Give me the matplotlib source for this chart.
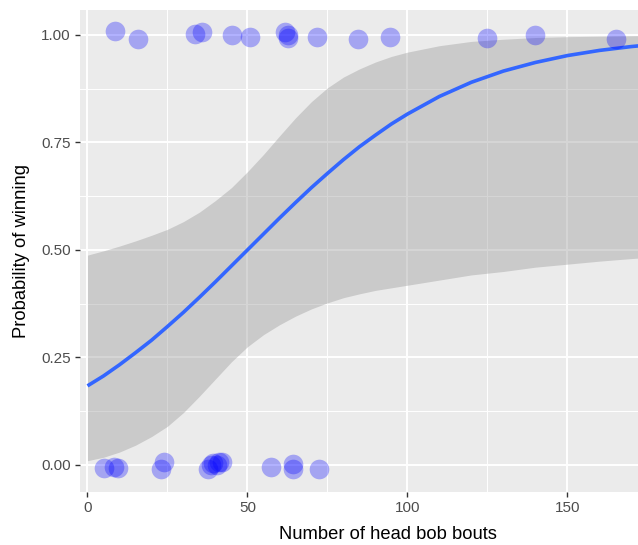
import numpy as np
import matplotlib
matplotlib.use("Agg")
import matplotlib.pyplot as plt

plt.rcParams['font.family'] = ['Liberation Sans', 'DejaVu Sans']

# observed bouts (jittered points), losers at 0 and winners at 1
lose_x = [5.2, 8.3, 9.5, 23.0, 23.9, 37.6, 38.6, 39.3, 40.4, 41.2, 41.9, 57.5, 64.1, 64.3, 72.4]
lose_y = [-0.006, -0.004, -0.007, -0.009, 0.008, -0.010, 0.001, 0.004, 0.000, 0.006, 0.008, -0.005, -0.009, 0.002, -0.010]
win_x = [8.6, 15.7, 33.6, 35.7, 45.3, 50.8, 61.7, 62.8, 62.8, 71.7, 84.6, 94.5, 124.9, 139.8, 165.2]
win_y = [1.009, 0.991, 1.003, 1.007, 1.000, 0.995, 1.008, 1.000, 0.994, 0.995, 0.990, 0.995, 0.992, 1.000, 0.991]

# fitted logistic curve and confidence band
fit_x = [0, 5, 10, 15, 20, 25, 30, 35, 40, 45, 50, 55, 60, 65, 70, 75, 80, 85, 90, 95,
         100, 110, 120, 130, 140, 150, 160, 170, 180, 190]
fit_p = [0.184, 0.207, 0.233, 0.261, 0.290, 0.322, 0.355, 0.390, 0.426, 0.463,
         0.500, 0.537, 0.574, 0.610, 0.645, 0.678, 0.710, 0.740, 0.767, 0.793,
         0.816, 0.857, 0.890, 0.916, 0.936, 0.952, 0.964, 0.973, 0.980, 0.985]
band_hi = [0.488, 0.498, 0.509, 0.521, 0.534, 0.548, 0.566, 0.588, 0.615, 0.645,
           0.682, 0.722, 0.765, 0.807, 0.845, 0.877, 0.902, 0.921, 0.937, 0.950,
           0.960, 0.975, 0.985, 0.990, 0.994, 0.996, 0.997, 0.998, 0.999, 0.999]
band_lo = [0.010, 0.018, 0.030, 0.046, 0.066, 0.090, 0.122, 0.160, 0.200, 0.240,
           0.275, 0.303, 0.326, 0.346, 0.363, 0.377, 0.389, 0.398, 0.406, 0.412,
           0.418, 0.430, 0.442, 0.450, 0.460, 0.467, 0.474, 0.480, 0.485, 0.490]

fig = plt.figure(figsize=(6.38, 5.45), dpi=100)
ax = fig.add_axes([80 / 638, 53 / 545, 616 / 638, 482 / 545])
ax.set_facecolor('#EBEBEB')
for s in ax.spines.values():
    s.set_visible(False)

ax.set_xlim(-2.34, 190.2)
ax.set_ylim(-0.0628, 1.058)
ax.set_xticks([0, 50, 100, 150])
ax.set_xticks([25, 75, 125, 175], minor=True)
ax.set_yticks([0, 0.25, 0.5, 0.75, 1.0])
ax.set_yticks([0.125, 0.375, 0.625, 0.875], minor=True)
ax.set_yticklabels(['0.00', '0.25', '0.50', '0.75', '1.00'])
ax.grid(which='major', color='white', lw=1.4)
ax.grid(which='minor', color='white', lw=0.7)
ax.set_axisbelow(True)
ax.tick_params(which='major', length=3.5, width=1.0, color='#333333',
               labelcolor='#4D4D4D', labelsize=11, pad=3)
ax.tick_params(which='minor', length=0)

ax.fill_between(fit_x, band_lo, band_hi, color='#999999', alpha=0.4, lw=0, zorder=2)
ax.plot(fit_x, fit_p, color='#3366FF', lw=2.6, zorder=3, solid_capstyle='butt')
ax.scatter(lose_x + win_x, lose_y + win_y, s=200, color='blue', alpha=0.3, lw=0, zorder=4)

ax.set_xlabel('Number of head bob bouts', fontsize=13.2, labelpad=8)
ax.set_ylabel('Probability of winning', fontsize=13.2, labelpad=8)

fig.savefig('out.png', dpi=100)
